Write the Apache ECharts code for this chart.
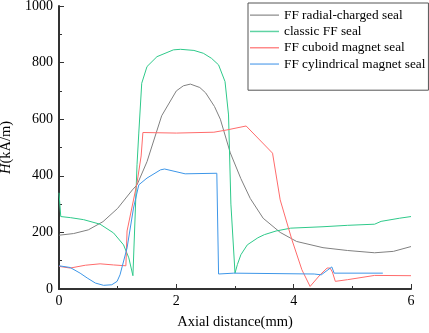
<!DOCTYPE html>
<html>
<head>
<meta charset="utf-8">
<script src="https://cdn.jsdelivr.net/npm/echarts@6/dist/echarts.min.js"></script>
<style>
  html, body { margin: 0; padding: 0; background: #fff; }
  #chart { width: 429px; height: 333px; }
</style>
</head>
<body>
<div id="chart"></div>
<script>
// FF radial-charged seal
const grayX = [0, 0.25, 0.5, 0.75, 1.0, 1.25, 1.33, 1.5, 1.75, 2.0, 2.12, 2.24, 2.4, 2.5, 2.65, 2.75, 2.92, 3.1, 3.26, 3.48, 3.77, 4.05, 4.5, 4.92, 5.38, 5.7, 6]
const grayY = [190, 196, 209, 238, 285, 350, 368, 450, 612, 700, 718, 724, 712, 693, 645, 600, 481, 390, 320, 250, 200, 168, 146, 136, 128, 133, 150]

// classic FF seal
const greenX = [0, 0.03, 0.2, 0.42, 0.7, 0.93, 1.1, 1.19, 1.26, 1.33, 1.36, 1.41, 1.5, 1.67, 1.95, 2.07, 2.3, 2.46, 2.6, 2.72, 2.83, 2.89, 2.93, 3.0, 3.04, 3.1, 3.21, 3.39, 3.5, 3.7, 3.95, 4.5, 4.92, 5.38, 5.49, 5.8, 6]
const greenY = [340, 256, 252, 245, 229, 198, 156, 110, 47, 439, 551, 727, 786, 821, 845, 847, 843, 833, 815, 792, 733, 615, 300, 56, 86, 121, 156, 181, 192, 205, 215, 220, 225, 229, 239, 250, 256]

// FF cuboid magnet seal
const redX = [0, 0.19, 0.45, 0.7, 0.93, 1.14, 1.16, 1.33, 1.40, 1.43, 2.0, 2.64, 2.86, 3.19, 3.64, 3.77, 3.97, 4.14, 4.28, 4.45, 4.57, 4.62, 4.66, 4.71, 4.92, 5.38, 6]
const redY = [80, 74, 84, 89, 85, 82, 205, 375, 470, 553, 551, 554, 562, 576, 480, 315, 174, 68, 9, 50, 74, 74, 60, 27, 33, 48, 47]

// FF cylindrical magnet seal
const blueX = [0, 0.19, 0.36, 0.48, 0.62, 0.76, 0.9, 0.99, 1.04, 1.16, 1.27, 1.36, 1.5, 1.73, 1.8, 2.15, 2.69, 2.72, 2.98, 4.35, 4.47, 4.65, 4.69, 5.52]
const blueY = [82, 76, 56, 39, 21, 13, 15, 27, 50, 145, 286, 368, 392, 421, 424, 407, 409, 53, 56, 53, 50, 78, 56, 56]

const seriesNames = ['FF radial-charged seal', 'classic FF seal', 'FF cuboid magnet seal', 'FF cylindrical magnet seal']
const seriesColors = ['#808080', '#2ec98a', '#ff6b6b', '#3d96e8']
const legendColors = ['#a0a0a0', '#5fd3a3', '#ff8a8a', '#7ab4ef']

const pair = (xs, ys) => xs.map((x, i) => [x, ys[i]])
const seriesData = [pair(grayX, grayY), pair(greenX, greenY), pair(redX, redY), pair(blueX, blueY)]

const font = '"Liberation Serif", "Times New Roman", serif'

const chart = echarts.init(document.getElementById('chart'))

const option = {
  animation: false,
  grid: { left: 59, right: 18, top: 6, bottom: 44, containLabel: false, outerBoundsMode: 'none' },
  legend: {
    orient: 'vertical',
    left: 248,
    top: 3,
    padding: [4, 3, 18, 2],
    itemGap: 0,
    itemWidth: 29,
    itemHeight: 1.5,
    icon: 'rect',
    borderColor: '#555',
    borderWidth: 1,
    textStyle: { fontFamily: font, fontSize: 13.3, color: '#000', lineHeight: 16.3 },
    data: seriesNames.map((name, i) => ({ name: name, itemStyle: { color: legendColors[i] } }))
  },
  xAxis: {
    type: 'value',
    min: 0,
    max: 6,
    interval: 2,
    name: 'Axial distance(mm)',
    nameLocation: 'middle',
    nameGap: 26,
    nameTextStyle: { fontFamily: font, fontSize: 14.5, color: '#000' },
    axisLine: { lineStyle: { color: '#333', width: 2 } },
    axisTick: { inside: true, length: 5, lineStyle: { color: '#333' } },
    minorTick: { show: true, splitNumber: 2, length: 3, lineStyle: { color: '#333' } },
    axisLabel: { fontFamily: font, fontSize: 14, color: '#000', margin: 5 },
    splitLine: { show: false }
  },
  yAxis: {
    type: 'value',
    min: 0,
    max: 1000,
    interval: 200,
    name: '{i|H}(kA/m)',
    nameLocation: 'middle',
    nameGap: 44,
    nameTextStyle: {
      fontFamily: font, fontSize: 14.5, color: '#000',
      rich: { i: { fontFamily: font, fontSize: 14.5, fontStyle: 'italic', color: '#000' } }
    },
    axisLine: { show: true, lineStyle: { color: '#333', width: 2 } },
    axisTick: { show: true, inside: true, length: 5, lineStyle: { color: '#333' } },
    minorTick: { show: true, splitNumber: 2, length: 3, lineStyle: { color: '#333' } },
    axisLabel: { fontFamily: font, fontSize: 14, color: '#000', margin: 6, formatter: v => String(v) },
    splitLine: { show: false }
  },
  series: seriesNames.map((name, i) => ({
    name: name,
    type: 'line',
    data: seriesData[i],
    symbol: 'none',
    showSymbol: false,
    smooth: false,
    color: seriesColors[i],
    lineStyle: { width: 1, color: seriesColors[i] }
  }))
}

chart.setOption(option)
</script>
</body>
</html>
